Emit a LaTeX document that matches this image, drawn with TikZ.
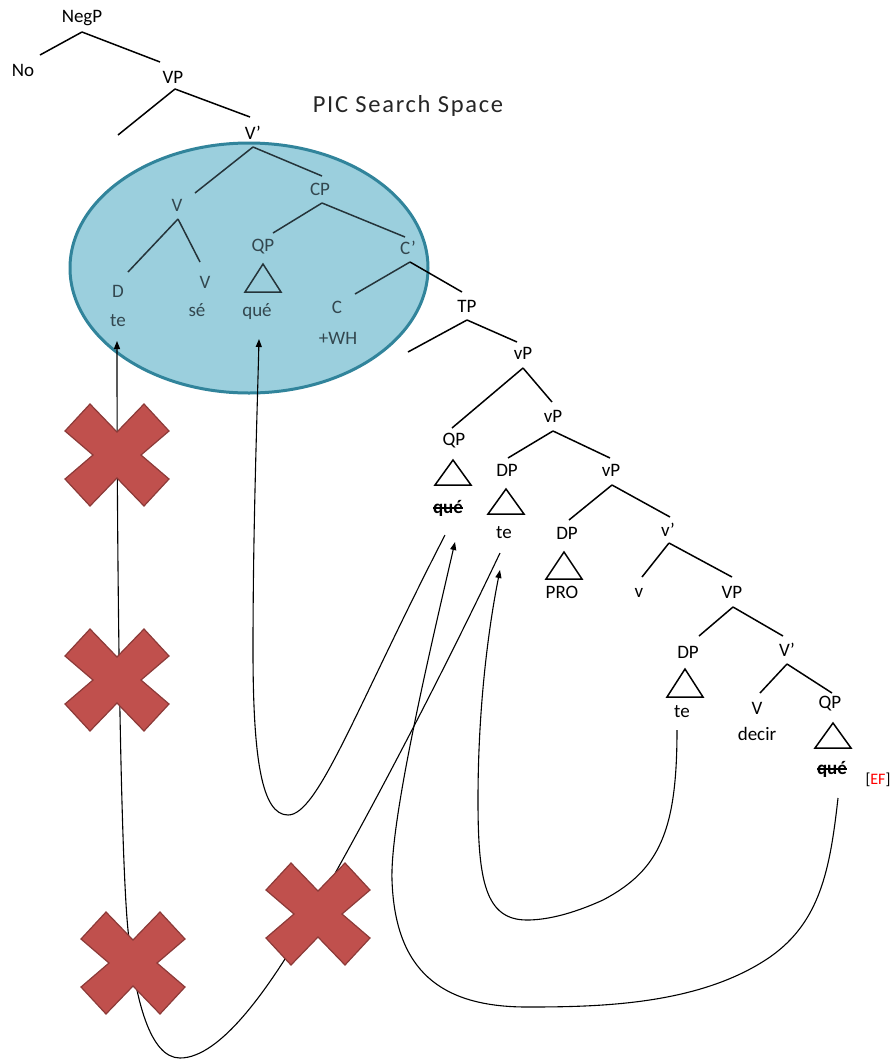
\documentclass[tikz,border=0pt]{standalone}
\usepackage{fontspec}
\setmainfont{Carlito}
\usetikzlibrary{arrows.meta,shapes.geometric}
\definecolor{ellfill}{HTML}{9BCFDD}
\definecolor{elldraw}{HTML}{31849B}
\definecolor{xfill}{HTML}{C0504D}
\definecolor{xdraw}{HTML}{8C3A38}
\definecolor{intext}{HTML}{33474F}
\definecolor{inline}{HTML}{25343A}
\newcommand\brn[5][branch]{\draw[#1] ([shift={(#3)}]#2.center) -- ([shift={(#5)}]#4.center);}
\newcommand\strk[1]{\setbox0\hbox{#1}\rlap{\copy0}\rule[0.22em]{\wd0}{0.08em}}
\begin{document}
\begin{tikzpicture}[x=1pt,y=-1pt,
  lab/.style={font=\fontsize{19}{21}\selectfont, inner sep=0pt, text=black},
  inlab/.style={lab, text=intext},
  branch/.style={line width=1.5pt, draw=black},
  inbranch/.style={line width=1.5pt, draw=inline},
  tri/.style={line width=1.5pt, draw=black, line join=miter},
  intri/.style={line width=1.5pt, draw=inline, line join=miter},
  mv/.style={line width=1.1pt, draw=black, -{Triangle[length=8pt,width=6pt]}},
  xshape/.style={fill=xfill, draw=xdraw, line width=1.2pt, line join=miter},
  xmark/.pic={\path[xshape] (-27,-51) -- (0,-23) -- (27,-51) -- (52,-24) -- (24,0) -- (52,24) -- (27,51) -- (0,23) -- (-27,51) -- (-52,24) -- (-24,0) -- (-52,-24) -- cycle;}
]
\fill[white] (0,0) rectangle (892,1061);
\useasboundingbox (0,0) rectangle (892,1061);

% search space
\node[ellipse, draw=elldraw, fill=ellfill, line width=3pt, minimum width=358pt, minimum height=250pt, inner sep=0pt] (space) at (249,268) {};
\node[font=\fontsize{24.5}{27}\selectfont\addfontfeature{LetterSpace=7}, text=black!85, inner sep=0pt] (title) at (408,106) {PIC Search Space};

% upper tree
\node[lab] (NegP) at (82,18) {NegP};
\node[lab] (No) at (23,70) {No};
\node[lab] (VPa) at (173,77) {VP};
\coordinate (ea) at (118,135);
\node[lab] (Vba) at (253,133) {V'};
\node[inlab] (Va) at (177,205) {V};
\node[inlab] (CP) at (320,189) {CP};
\node[inlab] (D) at (118,291) {D};
\node[inlab] (tea) at (118,321) {te};
\node[inlab] (Vb) at (205,282) {V};
\node[inlab] (se) at (197,310) {sé};
\node[inlab] (QPa) at (263,247) {QP};
\node[inlab] (quea) at (257,312) {qué};
\node[inlab] (Cb) at (408,248) {C'};
\node[inlab] (C) at (337,307) {C};
\node[inlab] (WH) at (338,338) {+WH};

% lower tree
\node[lab] (TP) at (467,306) {TP};
\coordinate (eb) at (408,352);
\node[lab] (vPa) at (523,353) {vP};
\node[lab] (QPb) at (454,441) {QP};
\node[lab, font=\fontsize{19}{21}\selectfont\bfseries] (queb) at (448,508) {\strk{qué}};
\node[lab] (vPb) at (553,416) {vP};
\node[lab] (DPa) at (507,470) {DP};
\node[lab] (teb) at (504,533) {te};
\node[lab] (vPc) at (611,470) {vP};
\node[lab] (DPb) at (567,533) {DP};
\node[lab] (PRO) at (562,592) {PRO};
\node[lab] (vb) at (668,530) {v'};
\node[lab] (v) at (639,593) {v};
\node[lab] (VPb) at (732,592) {VP};
\node[lab] (DPc) at (688,652) {DP};
\node[lab] (tec) at (682,712) {te};
\node[lab] (Vbb) at (787,650) {V'};
\node[lab] (Vc) at (757,708) {V};
\node[lab] (decir) at (757,734) {decir};
\node[lab] (QPc) at (830,704) {QP};
\node[lab, font=\fontsize{19}{21}\selectfont\bfseries] (quec) at (832,769) {\strk{qué}};
\node[font=\fontsize{16}{18}\selectfont, inner sep=0pt] (EF) at (878,780) {[\textcolor{red}{EF}]};

% branches
\brn{NegP}{0,14}{No}{17,-15}
\brn{NegP}{0,14}{VPa}{-13,-15}
\draw[branch] ([shift={(2,12)}]VPa.center) -- (ea);
\brn{VPa}{2,12}{Vba}{-3,-16}
\brn[inbranch]{Vba}{0,14}{Va}{18,-12}
\brn[inbranch]{Vba}{0,14}{CP}{2,-13}
\brn[inbranch]{Va}{1,14}{D}{10,-19}
\brn[inbranch]{Va}{1,14}{Vb}{-5,-20}
\brn[inbranch]{CP}{2,14}{QPa}{10,-14}
\brn[inbranch]{CP}{2,14}{Cb}{-3,-11}
\brn[inbranch]{Cb}{2,14}{C}{18,-13}
\brn{Cb}{2,14}{TP}{-5,-14}
\draw[branch] ([shift={(0,14)}]TP.center) -- (eb);
\brn{TP}{0,14}{vPa}{-6,-11}
\brn{vPa}{0,15}{QPb}{-2,-13}
\brn{vPa}{0,15}{vPb}{-1,-14}
\brn{vPb}{0,15}{DPa}{1,-12}
\brn{vPb}{0,15}{vPc}{-1,-12}
\brn{vPc}{1,15}{DPb}{2,-13}
\brn{vPc}{1,15}{vb}{2,-13}
\brn{vb}{1,13}{v}{3,-16}
\brn{vb}{1,13}{VPb}{0,-15}
\brn{VPb}{1,15}{DPc}{11,-16}
\brn{VPb}{1,15}{Vbb}{-4,-14}
\brn{Vbb}{0,14}{Vc}{3,-15}
\brn{Vbb}{0,14}{QPc}{2,-11}

% triangles
\draw[intri] ([shift={(0,17)}]QPa.center) -- ++(-18,28) -- ++(36,0) -- cycle;
\draw[tri] ([shift={(-1,19)}]QPb.center) -- ++(-18,25) -- ++(36,0) -- cycle;
\draw[tri] ([shift={(-1,19)}]DPa.center) -- ++(-18,25) -- ++(36,0) -- cycle;
\draw[tri] ([shift={(-3,19)}]DPb.center) -- ++(-18,27) -- ++(36,0) -- cycle;
\draw[tri] ([shift={(-3,17)}]DPc.center) -- ++(-18,28) -- ++(36,0) -- cycle;
\draw[tri] ([shift={(3,19)}]QPc.center) -- ++(-18,25) -- ++(36,0) -- cycle;

% movement paths
\draw[mv] ([shift={(-3,27)}]queb.center) .. controls (355,710) and (318,815) .. (288,815)
  .. controls (262,815) and (253,760) .. (253,650)
  .. controls (253,530) and (257,420) .. ([shift={(2,27)}]quea.center);
\draw[mv] ([shift={(6,29)}]quec.center) .. controls (830,870) and (820,922) .. (770,957)
  .. controls (700,1005) and (600,1007) .. (527,1007)
  .. controls (440,1007) and (395,970) .. (392,880)
  .. controls (390,820) and (430,650) .. ([shift={(7,34)}]queb.center);
\draw[mv] ([shift={(-4,20)}]teb.center) .. controls (430,700) and (360,830) .. (320,900)
  .. controls (270,990) and (220,1058) .. (180,1058)
  .. controls (150,1058) and (135,1000) .. (128,930)
  .. controls (121,860) and (117,600) .. ([shift={(-1,20)}]tea.center);
\draw[mv] ([shift={(-5,18)}]tec.center) .. controls (677,830) and (660,870) .. (603,900)
  .. controls (570,915) and (545,920) .. (527,920)
  .. controls (485,920) and (478,880) .. (478,800)
  .. controls (478,700) and (490,620) .. ([shift={(-4,37)}]teb.center);

% crosses
\pic (xa) at (117,455) {xmark};
\pic (xb) at (117,680) {xmark};
\pic (xc) at (133,963) {xmark};
\pic (xd) at (318,914) {xmark};
\end{tikzpicture}
\end{document}
